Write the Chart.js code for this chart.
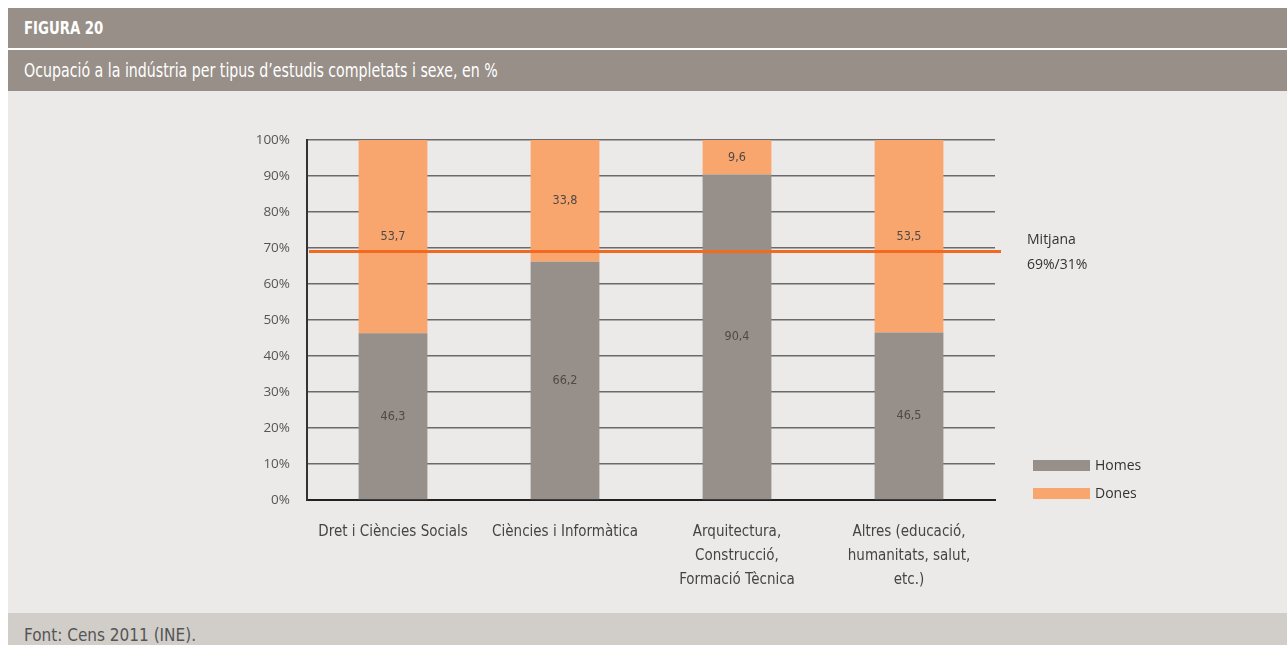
<!DOCTYPE html>
<html lang="ca">
<head>
<meta charset="utf-8">
<script src="https://cdn.jsdelivr.net/npm/chart.js@4.4.1/dist/chart.umd.min.js"></script>
<style>
  html, body { margin: 0; padding: 0; background: #fff; }
  body { width: 1287px; height: 645px; position: relative; overflow: hidden; }
  .narrow { font-family: "Liberation Sans Narrow", "DejaVu Sans Condensed", sans-serif; }
  .estret { display: inline-block; transform-origin: left center; }
  #cap1 { position: absolute; left: 8px; top: 8px; width: 1279px; height: 40px; background: #978f88;
          color: #fff; font-weight: bold; font-size: 18px; line-height: 40px; box-sizing: border-box; padding-left: 16px; }
  #cap1 .estret { transform: scaleX(0.82); }
  #cap2 { position: absolute; left: 8px; top: 50px; width: 1279px; height: 41px; background: #978f88;
          color: #fff; font-size: 19px; line-height: 40px; box-sizing: border-box; padding-left: 16px; }
  #cap2 .estret { transform: scaleX(0.83); }
  #panell { position: absolute; left: 8px; top: 91px; width: 1279px; height: 522px; background: #ebeae8; }
  #peu { position: absolute; left: 8px; top: 613px; width: 1279px; height: 40px; background: #d1cec9;
         color: #555; font-size: 17px; box-sizing: border-box; padding: 12px 0 0 16px; }
  canvas { position: absolute; left: 0; top: 0; }
</style>
</head>
<body>
<div id="cap1" class="narrow"><span class="estret">FIGURA 20</span></div>
<div id="cap2" class="narrow"><span class="estret">Ocupació a la indústria per tipus d’estudis completats i sexe, en %</span></div>
<div id="panell"><canvas id="grafic" width="1279" height="522"></canvas></div>
<div id="peu" class="narrow">Font: Cens 2011 (INE).</div>

<script>
const categories = [
  'Dret i Ciències Socials',
  'Ciències i Informàtica',
  ['Arquitectura,', 'Construcció,', 'Formació Tècnica'],
  ['Altres (educació,', 'humanitats, salut,', 'etc.)']
];
const homes = [46.3, 66.2, 90.4, 46.5];
const dones = [53.7, 33.8, 9.6, 53.5];
const mitjana = 69; // % homes

const NARROW = '"Liberation Sans Narrow", "DejaVu Sans Condensed", sans-serif';
const SANS = '"Open Sans", "Noto Sans", sans-serif';

const colHomes = '#978f89';
const colDones = '#f9a66e';
const colMitjana = '#f26a21';

// etiquetes de valor al mig de cada tram
const etiquetes = {
  id: 'etiquetes',
  afterDatasetsDraw(chart) {
    const ctx = chart.ctx;
    ctx.save();
    ctx.font = '12.5px ' + NARROW;
    ctx.fillStyle = '#4d4a48';
    ctx.textAlign = 'center';
    ctx.textBaseline = 'middle';
    chart.data.datasets.forEach((ds, di) => {
      chart.getDatasetMeta(di).data.forEach((bar, i) => {
        const txt = ds.data[i].toFixed(1).replace('.', ',');
        ctx.fillText(txt, bar.x, (bar.y + bar.base) / 2);
      });
    });
    ctx.restore();
  }
};

// línia de la mitjana + llegenda a la dreta
const mitjanaLlegenda = {
  id: 'mitjanaLlegenda',
  afterDatasetsDraw(chart) {
    const ctx = chart.ctx;
    const area = chart.chartArea;
    const y = chart.scales.y.getPixelForValue(mitjana);
    ctx.save();
    ctx.strokeStyle = colMitjana;
    ctx.lineWidth = 3;
    ctx.beginPath();
    ctx.moveTo(area.left + 2, y);
    ctx.lineTo(area.right + 6, y);
    ctx.stroke();

    ctx.fillStyle = '#333';
    ctx.font = '14px ' + SANS;
    ctx.textAlign = 'left';
    ctx.textBaseline = 'middle';
    ctx.fillText('Mitjana', area.right + 32, y - 12);
    ctx.fillText(mitjana + '%/' + (100 - mitjana) + '%', area.right + 32, y + 13);

    const y0 = chart.scales.y.getPixelForValue(0);
    chart.data.datasets.forEach((ds, i) => {
      const by = y0 - 40 + i * 28;
      ctx.fillStyle = ds.backgroundColor;
      ctx.fillRect(area.right + 38, by, 57, 11);
      ctx.fillStyle = '#333';
      ctx.fillText(ds.label, area.right + 100, by + 6);
    });
    ctx.restore();
  }
};

new Chart(document.getElementById('grafic'), {
  type: 'bar',
  data: {
    labels: categories,
    datasets: [
      { label: 'Homes', data: homes, backgroundColor: colHomes, borderWidth: 0 },
      { label: 'Dones', data: dones, backgroundColor: colDones, borderWidth: 0 }
    ]
  },
  options: {
    responsive: false,
    animation: false,
    layout: { padding: { left: 249, top: 49, right: 292, bottom: 23 } },
    datasets: { bar: { categoryPercentage: 1, barPercentage: 0.4 } },
    plugins: { legend: { display: false }, tooltip: { enabled: false } },
    scales: {
      x: {
        stacked: true,
        grid: { display: false },
        border: { color: '#222', width: 2 },
        ticks: { color: '#444', padding: 12, maxRotation: 0, font: { family: NARROW, size: 15, lineHeight: 1.6 } },
        afterFit(scale) { scale.height = 90; }
      },
      y: {
        stacked: true,
        min: 0,
        max: 100,
        grid: { color: '#6a6a6a', lineWidth: 1.5, drawTicks: false },
        border: { color: '#333', width: 2 },
        ticks: {
          stepSize: 10,
          color: '#555',
          padding: 17,
          font: { family: SANS, size: 13.5 },
          callback: v => v + '%'
        },
        afterFit(scale) { scale.width = 50; }
      }
    }
  },
  plugins: [etiquetes, mitjanaLlegenda]
});
</script>
</body>
</html>
